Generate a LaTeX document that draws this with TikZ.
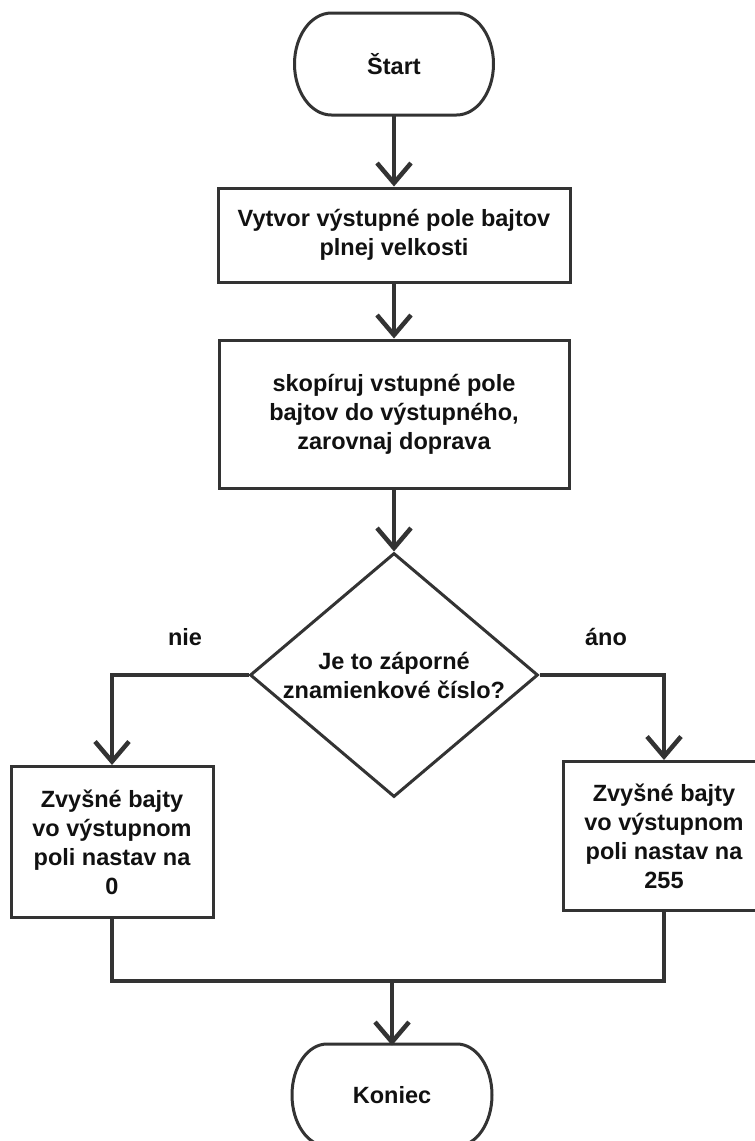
\documentclass[tikz,border=0pt]{standalone}
\usepackage{fontspec}
\setmainfont{Liberation Sans}
\usetikzlibrary{arrows.meta,shapes.geometric}
\definecolor{dk}{HTML}{333333}
\definecolor{tx}{HTML}{111111}
\begin{document}
\begin{tikzpicture}[x=1pt,y=-1pt,
  txt/.style={text=tx,font=\fontsize{23.5}{29}\selectfont\bfseries,align=center},
  box/.style={txt,draw=dk,line width=3pt,fill=white,inner sep=0pt},
  term/.style={txt,inner sep=0pt,outer sep=0pt},
  termline/.style={draw=dk,line width=3pt},
  decision/.style={box,shape=diamond,aspect=1.18},
  conn/.style={draw=dk,line width=4.5pt,-{Straight Barb[length=20pt,width=34pt]}},
  plain/.style={draw=dk,line width=4.5pt}]
\useasboundingbox (0,0) rectangle (755,1141);
\clip (0,0) rectangle (755,1141);

\node[term,minimum width=199pt,minimum height=102pt] (start) at (394,64) {Štart};
\draw[termline] ([xshift=37pt]start.north west) -- ([xshift=-37pt]start.north east)
  arc[start angle=90,end angle=-90,x radius=37pt,y radius=51pt]
  -- ([xshift=37pt]start.south west)
  arc[start angle=270,end angle=90,x radius=37pt,y radius=51pt] -- cycle;

\node[box,minimum width=352pt,minimum height=94pt] (b1) at (394,235)
  {Vytvor výstupné pole bajtov\\plnej velkosti};
\node[box,minimum width=350pt,minimum height=148pt] (b2) at (394,414)
  {skopíruj vstupné pole\\bajtov do výstupného,\\zarovnaj doprava};
\node[decision,minimum width=288pt,minimum height=244pt] (dec) at (394,675)
  {Je to záporné\\znamienkové číslo?};
\node[box,minimum width=202pt,minimum height=151pt] (left) at (112,842)
  {Zvyšné bajty\\vo výstupnom\\poli nastav na\\0};
\node[box,minimum width=202pt,minimum height=149pt] (right) at (664,836)
  {Zvyšné bajty\\vo výstupnom\\poli nastav na\\255};

\node[term,minimum width=200pt,minimum height=102pt] (end) at (392,1095) {Koniec};
\draw[termline] ([xshift=35pt]end.north west) -- ([xshift=-35pt]end.north east)
  arc[start angle=90,end angle=-90,x radius=35pt,y radius=51pt]
  -- ([xshift=35pt]end.south west)
  arc[start angle=270,end angle=90,x radius=35pt,y radius=51pt] -- cycle;

\node[txt] (nie) at (185,637) {nie};
\node[txt] (ano) at (606,637) {áno};

\coordinate (m) at (392,981);

\draw[conn] (start) -- (b1);
\draw[conn] (b1) -- (b2);
\draw[conn] (b2) -- (dec);
\draw[conn] (dec.west) -| (left.north);
\draw[conn] (dec.east) -| (right.north);
\draw[plain] (left.south) |- (m) -| (right.south);
\draw[conn] (m) -- ([yshift=-1.5pt]end.north);
\end{tikzpicture}
\end{document}
